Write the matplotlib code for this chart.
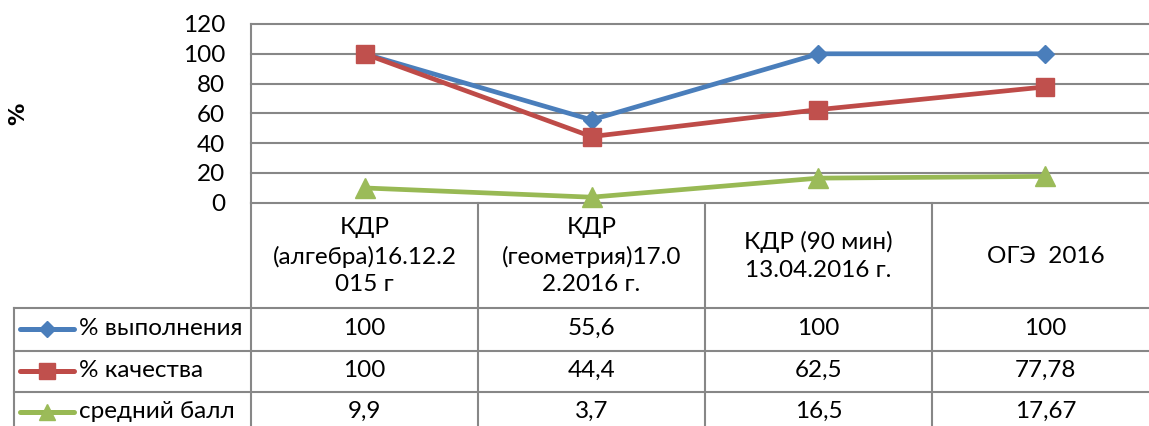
import numpy as np
import matplotlib.pyplot as plt
from matplotlib.lines import Line2D

plt.rcParams['font.family'] = ['Lato', 'DejaVu Sans']

# data
categories = ['КДР\n(алгебра)16.12.2\n015 г',
              'КДР\n(геометрия)17.0\n2.2016 г.',
              'КДР (90 мин)\n13.04.2016 г.',
              'ОГЭ  2016']
series_names = ['% выполнения', '% качества', 'средний балл']
vypolnenie = [100, 55.6, 100, 100]
kachestvo = [100, 44.4, 62.5, 77.78]
sredniy_ball = [9.9, 3.7, 16.5, 17.67]
y_ticks = [0, 20, 40, 60, 80, 100, 120]

series = [vypolnenie, kachestvo, sredniy_ball]
styles = [
    dict(color='#4A7EBB', marker='D', ms=9.5, mfc='#4A7EBB', mec='#4A7EBB'),
    dict(color='#BE4B48', marker='s', ms=13, mfc='#C0504D', mec='#C0504D'),
    dict(color='#98B954', marker='^', ms=14, mfc='#9BBB59', mec='#9BBB59'),
]
grid_c = '#878787'
fs = 17.5

W, H = 1149, 426
fig = plt.figure(figsize=(W / 100, H / 100), dpi=100)

# plot area in image pixels
x0, x1 = 251, 1159
y_top, y_zero = 24, 202.7
col_w = (x1 - x0) / len(categories)

ax = fig.add_axes([x0 / W, (H - y_zero) / H, (x1 - x0) / W, (y_zero - y_top) / H])
xs = np.arange(len(categories))
for vals, st in zip(series, styles):
    ax.plot(xs, vals, lw=3.4, solid_capstyle='round', solid_joinstyle='round',
            clip_on=False, zorder=3, **st)
ax.set_xlim(-0.5, len(categories) - 0.5)
ax.set_ylim(0, 120)
ax.set_yticks(y_ticks)
ax.set_xticks([])
ax.tick_params(axis='y', length=0, pad=18.5, labelsize=fs)
ax.grid(axis='y', color=grid_c, lw=1.5)
for gl in ax.get_ygridlines():
    gl.set_clip_on(False)
for s in ['top', 'right', 'bottom']:
    ax.spines[s].set_visible(False)
ax.spines['left'].set_color(grid_c)
ax.spines['left'].set_linewidth(1.5)

fig.text(18 / W, 1 - 114 / H, '%', rotation=90, fontsize=16, fontweight='bold',
         family='DejaVu Sans', ha='center', va='center')

# data table below the chart (x in category units, y in image pixel rows)
def px(x):
    return (x - x0) / col_w - 0.5

tax = fig.add_axes([0, 0, x1 / W, (H - y_zero) / H])
tax.set_xlim(px(0), len(categories) - 0.5)
tax.set_ylim(H, y_zero)
tax.axis('off')

row_lines = [308, 351, 392, 433]
lk = dict(color=grid_c, lw=1.5, clip_on=False)
for i in range(len(categories) + 1):
    tax.plot([i - 0.5, i - 0.5], [y_zero, H + 10], **lk)
for r in row_lines:
    tax.plot([px(14), len(categories)], [r, r], **lk)
tax.plot([px(14), px(14)], [row_lines[0], H + 10], **lk)

for i, lab in enumerate(categories):
    tax.text(i, (y_zero + row_lines[0]) / 2 + 1, lab, ha='center', va='center',
             fontsize=fs, linespacing=1.4, multialignment='center')

for k, (name, vals, st) in enumerate(zip(series_names, series, styles)):
    yc = (row_lines[k] + row_lines[k + 1]) / 2 - 1
    tax.add_line(Line2D([px(20), px(47), px(74)], [yc, yc, yc], lw=3.6,
                        solid_capstyle='round', markevery=[1],
                        **{**st, 'ms': st['ms'] * 0.85}))
    tax.text(px(79), yc, name, ha='left', va='center', fontsize=fs)
    for i, v in enumerate(vals):
        tax.text(i, yc, f'{v:g}'.replace('.', ','), ha='center', va='center',
                 fontsize=fs)

fig.savefig('out.png', dpi=100)
